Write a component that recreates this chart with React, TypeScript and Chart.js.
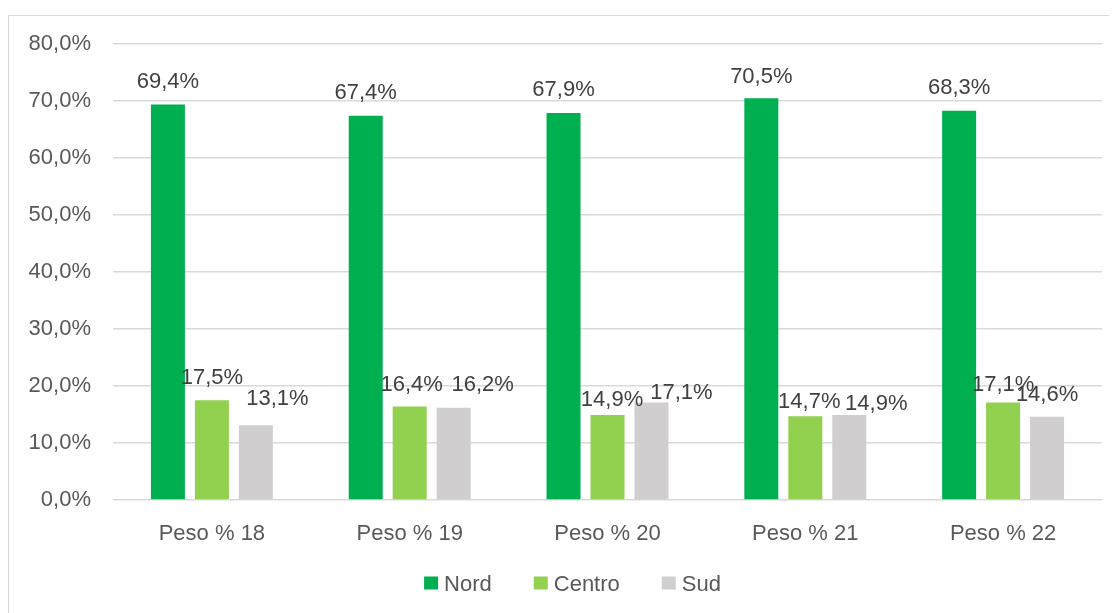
import React, { useEffect, useRef } from "react";
import { Chart, registerables } from "chart.js";

Chart.register(...registerables);

const categories = ["Peso % 18", "Peso % 19", "Peso % 20", "Peso % 21", "Peso % 22"];
const nord = [69.4, 67.4, 67.9, 70.5, 68.3];
const centro = [17.5, 16.4, 14.9, 14.7, 17.1];
const sud = [13.1, 16.2, 17.1, 14.9, 14.6];
const seriesNames = ["Nord", "Centro", "Sud"];
const seriesColors = ["#00B050", "#92D050", "#D0CECE"];

// label placement tweaks (pixel offsets relative to each bar top)
const labelDx = [
  [0, 0, 0, 0, 0],
  [0, 2, 4.5, 4, 0],
  [21.5, 29, 30, 27, 0],
];
const labelGap = [
  [16, 16.5, 17, 15, 16.5],
  [16.5, 16, 9, 8, 12],
  [20.5, 17, 4, 5, 16],
];

const FONT = "'Liberation Sans', Arial, sans-serif";
const fmt = (v: number) => v.toFixed(1).replace(".", ",") + "%";

const dataLabelPlugin = {
  id: "dataLabelPlugin",
  afterDatasetsDraw(chart: any) {
    const ctx = chart.ctx;
    ctx.save();
    ctx.font = `22px ${FONT}`;
    ctx.fillStyle = "#404040";
    ctx.textAlign = "center";
    ctx.textBaseline = "alphabetic";
    chart.data.datasets.forEach((ds: any, di: number) => {
      const meta = chart.getDatasetMeta(di);
      meta.data.forEach((bar: any, i: number) => {
        const v = ds.data[i];
        ctx.fillText(fmt(v), bar.x + labelDx[di][i], bar.y - labelGap[di][i]);
      });
    });
    ctx.restore();
  },
};

const legendPlugin = {
  id: "customLegend",
  afterDraw(chart: any) {
    const ctx = chart.ctx;
    ctx.save();
    ctx.font = `22px ${FONT}`;
    const box = 14;
    const gapBoxText = 6;
    const itemGap = 42;
    const widths = chart.data.datasets.map(
      (ds: any) => box + gapBoxText + ctx.measureText(ds.label).width
    );
    const total = widths.reduce((a: number, b: number) => a + b, 0) + itemGap * (widths.length - 1);
    let x = chart.width / 2 + 10 - total / 2;
    const yc = 568.5;
    chart.data.datasets.forEach((ds: any, i: number) => {
      ctx.fillStyle = ds.backgroundColor;
      ctx.fillRect(x, yc - box / 2, box, box - 1);
      ctx.fillStyle = "#595959";
      ctx.textAlign = "left";
      ctx.textBaseline = "middle";
      ctx.fillText(ds.label, x + box + gapBoxText, yc + 1);
      x += widths[i] + itemGap;
    });
    ctx.restore();
  },
};

export default function App() {
  const ref = useRef<HTMLCanvasElement>(null);
  useEffect(() => {
    document.documentElement.style.overflow = "hidden";
    document.body.style.overflow = "hidden";
    const values = [nord, centro, sud];
    const chart = new Chart(ref.current as HTMLCanvasElement, {
      type: "bar",
      data: {
        labels: categories,
        datasets: seriesNames.map((name, i) => ({
          label: name,
          data: values[i],
          backgroundColor: seriesColors[i],
          borderWidth: 0,
          categoryPercentage: 0.667,
          barPercentage: 0.773,
        })),
      },
      options: {
        responsive: false,
        animation: false,
        layout: { padding: { top: 29, right: 15, bottom: 53, left: 0 } },
        plugins: {
          legend: { display: false },
          tooltip: { enabled: false },
        },
        scales: {
          x: {
            grid: { display: false },
            border: { display: false },
            ticks: {
              color: "#595959",
              font: { family: FONT, size: 22 },
              padding: 13,
              maxRotation: 0,
            },
            afterFit(scale: any) {
              scale.height = 60;
              scale.paddingLeft = 0;
              scale.paddingRight = 0;
            },
          },
          y: {
            min: 0,
            max: 80,
            grid: { color: "#D9D9D9", lineWidth: 1.5, drawTicks: false },
            border: { display: false },
            ticks: {
              stepSize: 10,
              color: "#595959",
              font: { family: FONT, size: 22 },
              padding: 22,
              callback: (v: any) => fmt(Number(v)),
            },
            afterFit(scale: any) {
              scale.width = 105;
              scale.paddingTop = 0;
              scale.paddingBottom = 0;
            },
          },
        },
      },
      plugins: [dataLabelPlugin, legendPlugin],
    });
    return () => chart.destroy();
  }, []);

  return (
    <div style={{ position: "relative", marginTop: 7, width: 1109, height: 598, overflow: "hidden" }}>
      <div
        style={{
          position: "absolute",
          left: 0,
          top: 0,
          width: 1200,
          height: 700,
          border: "1px solid #D9D9D9",
          boxSizing: "border-box",
        }}
      />
      <canvas ref={ref} width={1109} height={598} style={{ position: "absolute", left: 0, top: 0 }} />
    </div>
  );
}
